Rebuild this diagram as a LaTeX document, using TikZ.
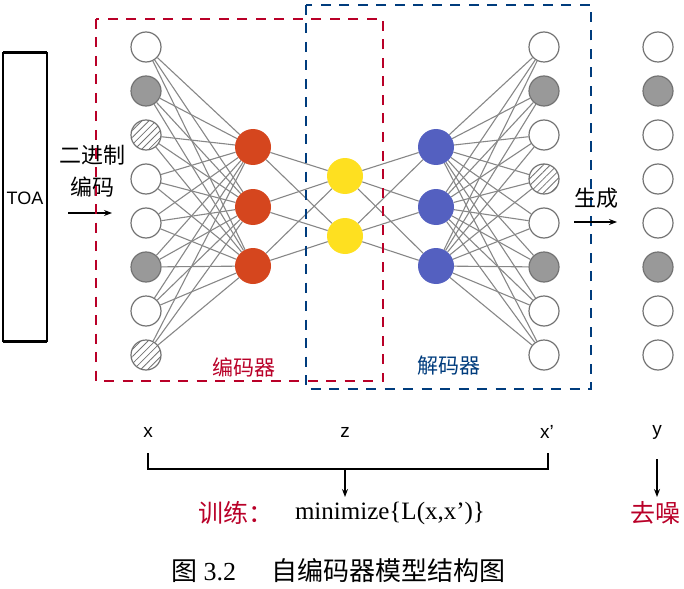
\documentclass[tikz,border=0pt]{standalone}
\usepackage{fontspec}
\setmainfont{Liberation Serif}
\newfontfamily\cjk{Noto Sans CJK SC}
\newfontfamily\arial{Liberation Sans}
\usepackage{xcolor}
\definecolor{ered}{RGB}{213,70,30}
\definecolor{zyel}{RGB}{254,224,32}
\definecolor{dblue}{RGB}{84,96,192}
\definecolor{ringgray}{RGB}{115,115,115}
\definecolor{dotgray}{RGB}{153,153,153}
\definecolor{linkgray}{RGB}{135,135,135}
\definecolor{fred}{RGB}{185,0,40}
\definecolor{fblue}{RGB}{0,60,125}
\usepackage{tikz}
\usetikzlibrary{arrows.meta,positioning,backgrounds,patterns.meta}

\begin{document}
\begin{tikzpicture}[
  x=1pt,y=-1pt,
  unit/.style={circle,draw=ringgray,line width=1.2pt,minimum size=30pt,inner sep=0pt,fill=white},
  dark/.style={unit,fill=dotgray},
  hatch/.style={unit,preaction={fill=white},pattern={Lines[angle=45,distance=5pt,line width=0.8pt]},pattern color=ringgray},
  hid/.style={circle,minimum size=36pt,inner sep=0pt},
  link/.style={draw=linkgray,line width=1.1pt},
  frame/.style={line width=2.9pt,dash pattern=on 10pt off 8.5pt},
  arrow/.style={-{Stealth[length=8pt,width=6pt]},line width=1.2pt},
  cn/.style={font=\cjk\fontsize{22}{26}\selectfont},
  lab/.style={font=\arial\fontsize{19}{22}\selectfont}
]
  \useasboundingbox (0,0) rectangle (684,588);

  % === TOA source ===
  \draw[line width=1.4pt] (3,53) rectangle (47,341);
  \draw[line width=3pt] (3,53) -- (47,53) (3,341) -- (47,341);
  \node[font=\arial\fontsize{18}{20}\selectfont] (toa) at (25,198) {TOA};
  \node[cn] (bin1) at (92,155) {二进制};
  \node[cn] (bin2) at (92,187) {编码};
  \coordinate (ina) at (68,213);
  \coordinate (inb) at (112,213);
  \draw[arrow] (ina) -- (inb);

  % === Input layer x ===
  \node[unit]  (in1) at (146,47) {};
  \node[dark]  (in2) at (146,91) {};
  \node[hatch] (in3) at (146,135) {};
  \node[unit]  (in4) at (146,179) {};
  \node[unit]  (in5) at (146,223) {};
  \node[dark]  (in6) at (146,267) {};
  \node[unit]  (in7) at (146,311) {};
  \node[hatch] (in8) at (146,355) {};

  % === Encoder / code / decoder ===
  \node[hid,fill=ered]  (e1) at (253,147) {};
  \node[hid,fill=ered]  (e2) at (253,207) {};
  \node[hid,fill=ered]  (e3) at (253,266) {};
  \node[hid,fill=zyel]  (z1) at (345,176) {};
  \node[hid,fill=zyel]  (z2) at (345,236) {};
  \node[hid,fill=dblue] (d1) at (436,147) {};
  \node[hid,fill=dblue] (d2) at (436,207) {};
  \node[hid,fill=dblue] (d3) at (436,266) {};

  % === Output layer x' ===
  \node[unit]  (out1) at (544,47) {};
  \node[dark]  (out2) at (544,91) {};
  \node[unit]  (out3) at (544,135) {};
  \node[hatch] (out4) at (544,179) {};
  \node[unit]  (out5) at (544,223) {};
  \node[dark]  (out6) at (544,267) {};
  \node[unit]  (out7) at (544,311) {};
  \node[unit]  (out8) at (544,355) {};

  % === Denoised y ===
  \node[unit] (y1) at (658,47) {};
  \node[dark] (y2) at (658,91) {};
  \node[unit] (y3) at (658,135) {};
  \node[unit] (y4) at (658,179) {};
  \node[unit] (y5) at (658,223) {};
  \node[dark] (y6) at (658,267) {};
  \node[unit] (y7) at (658,311) {};
  \node[unit] (y8) at (658,355) {};

  % full connections behind the units
  \begin{scope}[on background layer]
    \foreach \i in {1,...,8} \foreach \j in {1,2,3} \draw[link] (in\i) -- (e\j);
    \foreach \i in {1,2,3} \foreach \j in {1,2} \draw[link] (e\i) -- (z\j);
    \foreach \i in {1,2} \foreach \j in {1,2,3} \draw[link] (z\i) -- (d\j);
    \foreach \i in {1,2,3} \foreach \j in {1,...,8} \draw[link] (d\i) -- (out\j);
  \end{scope}

  % === Dashed frames ===
  \draw[frame,fred] (96,19) rectangle (383,381);
  \draw[frame,fblue] (306,5) rectangle (591,389);
  \node[cn,fred,font=\cjk\fontsize{21}{24}\selectfont] (enc) at (244,367) {编码器};
  \node[cn,fblue,font=\cjk\fontsize{21}{24}\selectfont] (dec) at (449,366) {解码器};

  \node[cn] (gen) at (596,198) {生成};
  \coordinate (ga) at (574,222);
  \coordinate (gb) at (617,222);
  \draw[arrow] (ga) -- (gb);

  % === Training ===
  \node[lab] (lx) at (148,432) {x};
  \node[lab] (lz) at (345,432) {z};
  \node[lab] (lxp) at (547,432) {x’};
  \node[lab] (ly) at (657,432) {y};
  \coordinate (b1) at (148,453);
  \coordinate (b2) at (148,469);
  \coordinate (b3) at (548,469);
  \coordinate (b4) at (548,453);
  \draw[line width=1.9pt] (b1) -- (b2) -- (b3) -- (b4);
  \coordinate (bm) at (345,469);
  \coordinate (bt) at (345,497);
  \draw[arrow] (bm) -- (bt);
  \node[cn,fred,font=\cjk\fontsize{25}{28}\selectfont] (train) at (236,513) {训练：};
  \node[font=\fontsize{25}{28}\selectfont] (loss) at (390,513) {minimize\{L(x,x’)\}};
  \coordinate (ya) at (657,459);
  \coordinate (yb) at (657,497);
  \draw[arrow] (ya) -- (yb);
  \node[cn,fred,font=\cjk\fontsize{25}{28}\selectfont] (denoise) at (655,513) {去噪};

  % === Caption ===
  \node[anchor=west,font=\fontsize{26}{30}\selectfont,inner sep=0pt] (cap1) at (171,571) {{\cjk 图} 3.2};
  \node[anchor=west,cn,font=\cjk\fontsize{26}{30}\selectfont,inner sep=0pt] (cap2) at (271,571) {自编码器模型结构图};
\end{tikzpicture}
\end{document}
